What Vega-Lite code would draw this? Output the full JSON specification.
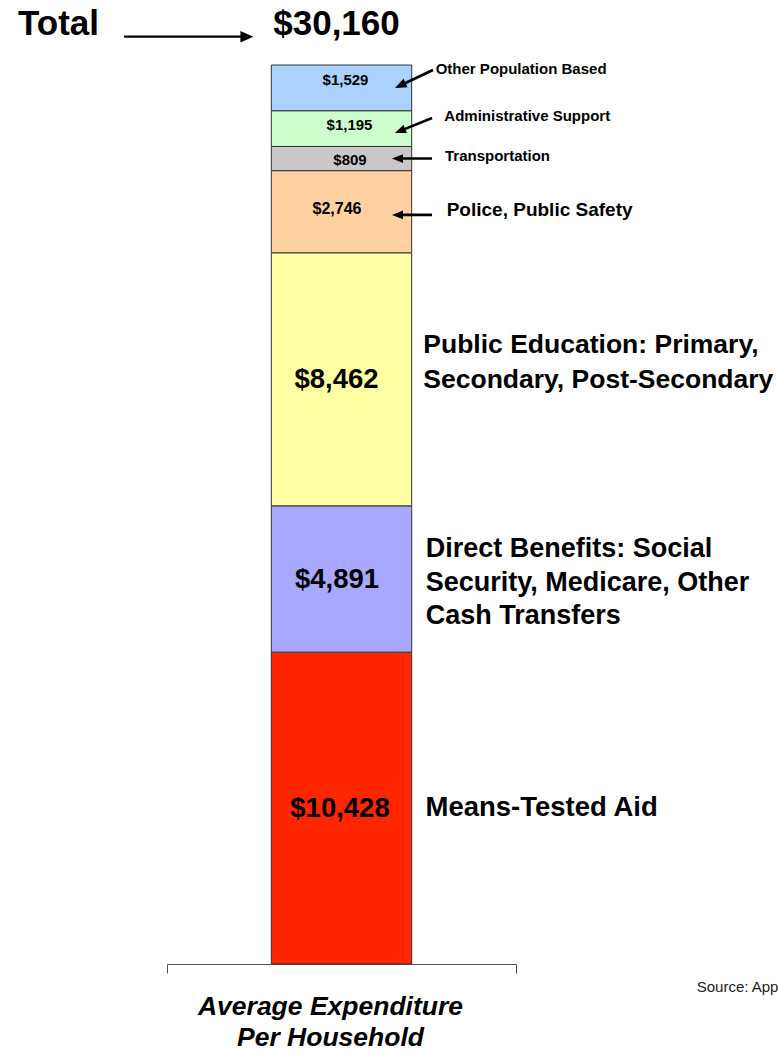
{
  "$schema": "https://vega.github.io/schema/vega-lite/v6.json",
  "width": 349,
  "height": 899,
  "autosize": "none",
  "padding": {"left": 167, "top": 65, "right": 262, "bottom": 90},
  "background": "white",
  "config": {"view": {"stroke": null}},
  "datasets": {
    "segments": [
      {"group": "Average Expenditure Per Household", "category": "Means-Tested Aid", "name": "Means-Tested Aid", "value": 10428, "order": 1},
      {"group": "Average Expenditure Per Household", "category": "Direct Benefits", "name": "Direct Benefits: Social\nSecurity, Medicare, Other\nCash Transfers", "value": 4891, "order": 2},
      {"group": "Average Expenditure Per Household", "category": "Public Education", "name": "Public Education: Primary,\nSecondary, Post-Secondary", "value": 8462, "order": 3},
      {"group": "Average Expenditure Per Household", "category": "Police, Public Safety", "name": "Police, Public Safety", "value": 2746, "order": 4},
      {"group": "Average Expenditure Per Household", "category": "Transportation", "name": "Transportation", "value": 809, "order": 5},
      {"group": "Average Expenditure Per Household", "category": "Administrative Support", "name": "Administrative Support", "value": 1195, "order": 6},
      {"group": "Average Expenditure Per Household", "category": "Other Population Based", "name": "Other Population Based", "value": 1529, "order": 7}
    ],
    "notes": [
      {"group": "Average Expenditure Per Household", "key": "total", "text": "Total", "value": 30160},
      {"group": "Average Expenditure Per Household", "key": "source", "text": "Source: App"},
      {"group": "Average Expenditure Per Household", "key": "xtitle", "text": "Average Expenditure\nPer Household"}
    ]
  },
  "encoding": {
    "x": {
      "field": "group",
      "type": "nominal",
      "scale": {"paddingInner": 0, "paddingOuter": 0},
      "axis": {"title": null, "labels": false, "ticks": true, "tickBand": "extent", "tickSize": 9, "domainColor": "#555555", "tickColor": "#555555", "domainWidth": 1, "tickWidth": 1, "orient": "bottom"}
    }
  },
  "layer": [
    {
      "data": {"name": "segments"},
      "transform": [
        {"stack": "value", "groupby": ["group"], "sort": [{"field": "order", "order": "ascending"}], "as": ["v0", "v1"]},
        {"calculate": "(datum.v0 + datum.v1) / 2", "as": "mid"}
      ],
      "layer": [
        {
          "mark": {"type": "bar", "width": {"band": 0.4023}, "stroke": "#333333", "strokeWidth": 1},
          "encoding": {
            "y": {"field": "v0", "type": "quantitative", "axis": null, "scale": {"domain": [0, 30060], "nice": false, "zero": true}},
            "y2": {"field": "v1"},
            "color": {
              "field": "category", "type": "nominal", "legend": null,
              "scale": {
                "domain": ["Means-Tested Aid", "Direct Benefits", "Public Education", "Police, Public Safety", "Transportation", "Administrative Support", "Other Population Based"],
                "range": ["#FF2600", "#A8A8FF", "#FFFFA3", "#FFD1A1", "#C8C8C8", "#CCFFCC", "#A9D2FF"]
              }
            }
          }
        },
        {
          "transform": [{"filter": "datum.order == 1"}],
          "mark": {"type": "text", "font": "Liberation Sans", "fontWeight": "bold", "fontSize": 27.5, "align": "center", "baseline": "alphabetic", "dx": -1.5, "dy": 8.7, "color": "black"},
          "encoding": {"y": {"field": "mid", "type": "quantitative", "axis": null}, "text": {"field": "value", "type": "quantitative", "format": "$,.0f"}}
        },
        {
          "transform": [{"filter": "datum.order == 2"}],
          "mark": {"type": "text", "font": "Liberation Sans", "fontWeight": "bold", "fontSize": 27.5, "align": "center", "baseline": "alphabetic", "dx": -4.5, "dy": 9.3, "color": "black"},
          "encoding": {"y": {"field": "mid", "type": "quantitative", "axis": null}, "text": {"field": "value", "type": "quantitative", "format": "$,.0f"}}
        },
        {
          "transform": [{"filter": "datum.order == 3"}],
          "mark": {"type": "text", "font": "Liberation Sans", "fontWeight": "bold", "fontSize": 27.5, "align": "center", "baseline": "alphabetic", "dx": -5, "dy": 8.9, "color": "black"},
          "encoding": {"y": {"field": "mid", "type": "quantitative", "axis": null}, "text": {"field": "value", "type": "quantitative", "format": "$,.0f"}}
        },
        {
          "transform": [{"filter": "datum.order == 4"}],
          "mark": {"type": "text", "font": "Liberation Sans", "fontWeight": "bold", "fontSize": 16, "align": "center", "baseline": "alphabetic", "dx": -4.5, "dy": 2.2, "color": "black"},
          "encoding": {"y": {"field": "mid", "type": "quantitative", "axis": null}, "text": {"field": "value", "type": "quantitative", "format": "$,.0f"}}
        },
        {
          "transform": [{"filter": "datum.order == 5"}],
          "mark": {"type": "text", "font": "Liberation Sans", "fontWeight": "bold", "fontSize": 15, "align": "center", "baseline": "alphabetic", "dx": 8.5, "dy": 6.4, "color": "black"},
          "encoding": {"y": {"field": "mid", "type": "quantitative", "axis": null}, "text": {"field": "value", "type": "quantitative", "format": "$,.0f"}}
        },
        {
          "transform": [{"filter": "datum.order == 6"}],
          "mark": {"type": "text", "font": "Liberation Sans", "fontWeight": "bold", "fontSize": 15, "align": "center", "baseline": "alphabetic", "dx": 8, "dy": 1.4, "color": "black"},
          "encoding": {"y": {"field": "mid", "type": "quantitative", "axis": null}, "text": {"field": "value", "type": "quantitative", "format": "$,.0f"}}
        },
        {
          "transform": [{"filter": "datum.order == 7"}],
          "mark": {"type": "text", "font": "Liberation Sans", "fontWeight": "bold", "fontSize": 15, "align": "center", "baseline": "alphabetic", "dx": 4, "dy": -2.9, "color": "black"},
          "encoding": {"y": {"field": "mid", "type": "quantitative", "axis": null}, "text": {"field": "value", "type": "quantitative", "format": "$,.0f"}}
        },
        {
          "transform": [{"filter": "datum.order == 1"}],
          "mark": {"type": "text", "font": "Liberation Sans", "fontWeight": "bold", "fontSize": 27.5, "align": "left", "baseline": "alphabetic", "dx": 84, "dy": 8, "color": "black"},
          "encoding": {"y": {"field": "mid", "type": "quantitative", "axis": null}, "text": {"field": "name"}}
        },
        {
          "transform": [{"filter": "datum.order == 2"}],
          "mark": {"type": "text", "font": "Liberation Sans", "fontWeight": "bold", "fontSize": 27, "align": "left", "baseline": "alphabetic", "lineBreak": "\n", "lineHeight": 33.3, "dx": 84.2, "dy": -21.7, "color": "black"},
          "encoding": {"y": {"field": "mid", "type": "quantitative", "axis": null}, "text": {"field": "name"}}
        },
        {
          "transform": [{"filter": "datum.order == 3"}],
          "mark": {"type": "text", "font": "Liberation Sans", "fontWeight": "bold", "fontSize": 26.5, "align": "left", "baseline": "alphabetic", "lineBreak": "\n", "lineHeight": 35, "dx": 81.8, "dy": -26.1, "color": "black"},
          "encoding": {"y": {"field": "mid", "type": "quantitative", "axis": null}, "text": {"field": "name"}}
        },
        {
          "transform": [{"filter": "datum.order == 4"}],
          "mark": {"type": "text", "font": "Liberation Sans", "fontWeight": "bold", "fontSize": 19, "align": "left", "baseline": "alphabetic", "dx": 105.2, "dy": 3.8, "color": "black"},
          "encoding": {"y": {"field": "mid", "type": "quantitative", "axis": null}, "text": {"field": "name"}}
        },
        {
          "transform": [{"filter": "datum.order == 5"}],
          "mark": {"type": "text", "font": "Liberation Sans", "fontWeight": "bold", "fontSize": 15, "align": "left", "baseline": "alphabetic", "dx": 103.5, "dy": 2.4, "color": "black"},
          "encoding": {"y": {"field": "mid", "type": "quantitative", "axis": null}, "text": {"field": "name"}}
        },
        {
          "transform": [{"filter": "datum.order == 6"}],
          "mark": {"type": "text", "font": "Liberation Sans", "fontWeight": "bold", "fontSize": 15, "align": "left", "baseline": "alphabetic", "dx": 102.8, "dy": -7.9, "color": "black"},
          "encoding": {"y": {"field": "mid", "type": "quantitative", "axis": null}, "text": {"field": "name"}}
        },
        {
          "transform": [{"filter": "datum.order == 7"}],
          "mark": {"type": "text", "font": "Liberation Sans", "fontWeight": "bold", "fontSize": 15, "align": "left", "baseline": "alphabetic", "dx": 94.2, "dy": -13.9, "color": "black"},
          "encoding": {"y": {"field": "mid", "type": "quantitative", "axis": null}, "text": {"field": "name"}}
        },
        {
          "transform": [{"filter": "datum.order == 7"}],
          "mark": {"type": "point", "shape": "M-1,-0.065L0.45,-0.065L0.45,-0.22L1,0L0.45,0.22L0.45,0.065L-1,0.065Z", "size": 1764, "angle": 154.6, "xOffset": 72.5, "yOffset": -8.9, "filled": true, "color": "black", "opacity": 1, "strokeWidth": 0},
          "encoding": {"y": {"field": "mid", "type": "quantitative", "axis": null}}
        },
        {
          "transform": [{"filter": "datum.order == 6"}],
          "mark": {"type": "point", "shape": "M-1,-0.065L0.45,-0.065L0.45,-0.22L1,0L0.45,0.22L0.45,0.065L-1,0.065Z", "size": 1600, "angle": 157.9, "xOffset": 72, "yOffset": -3.1, "filled": true, "color": "black", "opacity": 1, "strokeWidth": 0},
          "encoding": {"y": {"field": "mid", "type": "quantitative", "axis": null}}
        },
        {
          "transform": [{"filter": "datum.order == 5"}],
          "mark": {"type": "point", "shape": "M-1,-0.065L0.45,-0.065L0.45,-0.22L1,0L0.45,0.22L0.45,0.065L-1,0.065Z", "size": 1600, "angle": 180, "xOffset": 70.5, "yOffset": 0, "filled": true, "color": "black", "opacity": 1, "strokeWidth": 0},
          "encoding": {"y": {"field": "mid", "type": "quantitative", "axis": null}}
        },
        {
          "transform": [{"filter": "datum.order == 4"}],
          "mark": {"type": "point", "shape": "M-1,-0.065L0.45,-0.065L0.45,-0.22L1,0L0.45,0.22L0.45,0.065L-1,0.065Z", "size": 1600, "angle": 180, "xOffset": 70.5, "yOffset": 3.2, "filled": true, "color": "black", "opacity": 1, "strokeWidth": 0},
          "encoding": {"y": {"field": "mid", "type": "quantitative", "axis": null}}
        }
      ]
    },
    {
      "data": {"name": "notes"},
      "layer": [
        {
          "transform": [{"filter": "datum.key == 'total'"}],
          "mark": {"type": "text", "font": "Liberation Sans", "fontWeight": "bold", "fontSize": 35, "align": "center", "baseline": "alphabetic", "dx": -283, "dy": -27, "color": "black"},
          "encoding": {"y": {"field": "value", "type": "quantitative", "axis": null}, "text": {"field": "text"}}
        },
        {
          "transform": [{"filter": "datum.key == 'total'"}],
          "mark": {"type": "text", "font": "Liberation Sans", "fontWeight": "bold", "fontSize": 35, "align": "center", "baseline": "alphabetic", "dx": -5, "dy": -27, "color": "black"},
          "encoding": {"y": {"field": "value", "type": "quantitative", "axis": null}, "text": {"field": "value", "type": "quantitative", "format": "$,.0f"}}
        },
        {
          "transform": [{"filter": "datum.key == 'total'"}],
          "mark": {"type": "point", "shape": "M-1,-0.017L0.8,-0.017L0.8,-0.09L1,0L0.8,0.09L0.8,0.017L-1,0.017Z", "size": 16718, "angle": 0, "xOffset": -152.8, "yOffset": -25.3, "filled": true, "color": "black", "opacity": 1, "strokeWidth": 0},
          "encoding": {"y": {"field": "value", "type": "quantitative", "axis": null}}
        },
        {
          "transform": [{"filter": "datum.key == 'source'"}],
          "mark": {"type": "text", "font": "Liberation Sans", "fontSize": 15, "align": "left", "baseline": "alphabetic", "dx": 355.2, "dy": 27.7, "color": "#222222"},
          "encoding": {"y": {"datum": 0, "type": "quantitative", "axis": null}, "text": {"field": "text"}}
        },
        {
          "transform": [{"filter": "datum.key == 'xtitle'"}],
          "mark": {"type": "text", "font": "Liberation Sans", "fontWeight": "bold", "fontStyle": "italic", "fontSize": 26.5, "align": "center", "baseline": "alphabetic", "lineBreak": "\n", "lineHeight": 31, "dx": -11, "dy": 51, "color": "black"},
          "encoding": {"y": {"datum": 0, "type": "quantitative", "axis": null}, "text": {"field": "text"}}
        }
      ]
    }
  ]
}
